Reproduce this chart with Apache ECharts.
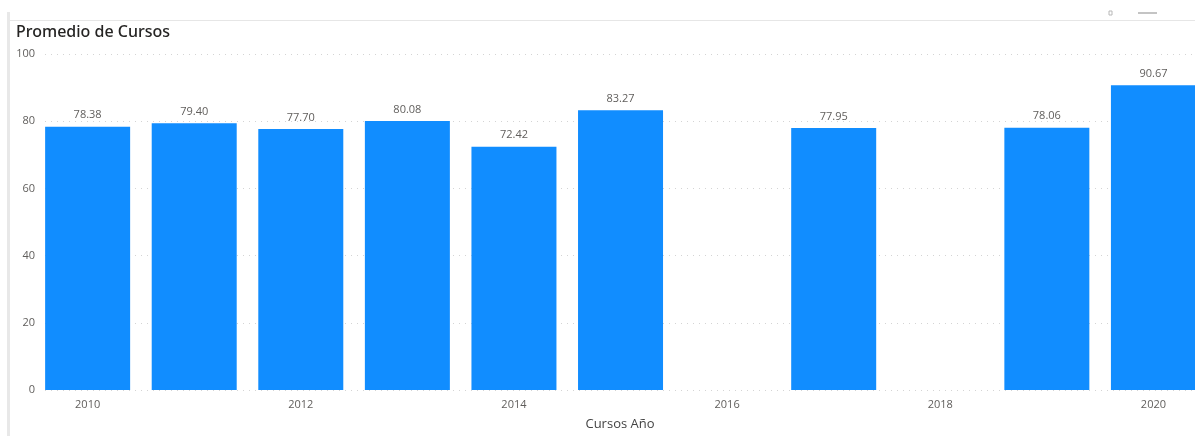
<!DOCTYPE html>
<html>
<head>
<meta charset="utf-8">
<style>
  html, body { margin: 0; padding: 0; background: #fff; }
  #chart { width: 1195px; height: 436px; }
</style>
<script src="https://cdn.jsdelivr.net/npm/echarts@6/dist/echarts.min.js"></script>
</head>
<body>
<div id="chart"></div>
<script>
// Average course score per year (2016 and 2018 have no data)
const years = [2010, 2011, 2012, 2013, 2014, 2015, 2017, 2019, 2020];
const promedio = [78.38, 79.40, 77.70, 80.08, 72.42, 83.27, 77.95, 78.06, 90.67];
const yearTicks = [2010, 2012, 2014, 2016, 2018, 2020];
const yTicks = [0, 20, 40, 60, 80, 100];

const chart = echarts.init(document.getElementById('chart'), null, { renderer: 'canvas' });

const labelFont = '"Open Sans", "Noto Sans", sans-serif';

chart.setOption({
  animation: false,
  title: {
    text: 'Promedio de Cursos',
    left: 11,
    top: 19,
    textStyle: {
      fontFamily: '"Noto Sans", sans-serif',
      fontSize: 16,
      fontWeight: 500,
      color: '#252423'
    }
  },
  graphic: [
    // visual frame: left edge and top separator
    { type: 'rect', shape: { x: 7, y: 12, width: 3, height: 430 }, style: { fill: '#e8e8e8' }, silent: true },
    { type: 'rect', shape: { x: 10, y: 20, width: 1190, height: 1 }, style: { fill: '#e6e6e6' }, silent: true },
    // header icons
    { type: 'rect', shape: { x: 1109, y: 11, width: 3, height: 4 }, style: { fill: '#fff', stroke: '#b8b8b8', lineWidth: 1 }, silent: true },
    { type: 'rect', shape: { x: 1138, y: 12, width: 19, height: 2 }, style: { fill: '#c4c4c4' }, silent: true }
  ],
  grid: { left: 45, right: 0, top: 54, bottom: 39, containLabel: false },
  xAxis: {
    type: 'value',
    min: 2009.6,
    max: 2020.39,
    name: 'Cursos Año',
    nameLocation: 'middle',
    nameGap: 28,
    nameTextStyle: {
      fontFamily: labelFont,
      fontSize: 13,
      color: '#444'
    },
    axisLine: { show: false },
    axisTick: { show: false },
    splitLine: { show: false },
    axisLabel: {
      customValues: yearTicks,
      margin: 9,
      fontFamily: labelFont,
      fontSize: 11,
      color: '#605e5c',
      formatter: v => String(v)
    }
  },
  yAxis: {
    type: 'value',
    min: 0,
    max: 100,
    interval: 20,
    axisLine: { show: false },
    axisTick: { show: false },
    axisLabel: {
      margin: 10,
      fontFamily: labelFont,
      fontSize: 11,
      color: '#605e5c',
      formatter: v => yTicks.includes(v) ? String(v) : ''
    },
    splitLine: {
      show: true,
      lineStyle: { color: '#d4d4d4', type: [1, 5], width: 1 }
    }
  },
  series: [{
    type: 'bar',
    data: years.map((y, i) => [y, promedio[i]]),
    barWidth: 85,
    itemStyle: { color: '#118DFF' },
    label: {
      show: true,
      position: 'top',
      distance: 6,
      fontFamily: labelFont,
      fontSize: 11,
      color: '#605e5c',
      formatter: p => p.value[1].toFixed(2)
    }
  }]
});
</script>
</body>
</html>
